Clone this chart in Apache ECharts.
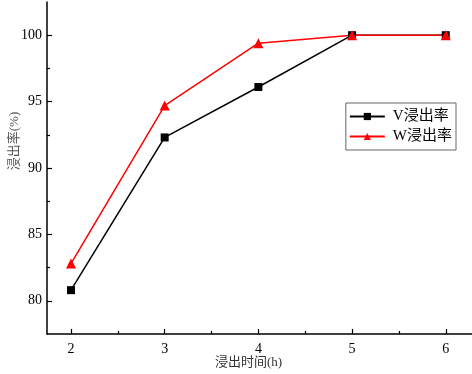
<!DOCTYPE html>
<html><head><meta charset="utf-8">
<script src="https://cdn.jsdelivr.net/npm/echarts@6/dist/echarts.min.js"></script>
<style>html,body{margin:0;padding:0;background:#fff}#c{width:472px;height:374px}</style>
</head><body><div id="c"></div>
<script>
const times = [2, 3, 4, 5, 6];
const vRate = [80.8, 92.3, 96.1, 100.0, 100.0];
const wRate = [82.8, 94.7, 99.4, 100.0, 100.0];
const xMajor = [2, 3, 4, 5, 6];
const xMinor = [2.5, 3.5, 4.5, 5.5];
const yMajor = [80, 85, 90, 95, 100];
const yMinor = [82.5, 87.5, 92.5, 97.5];

const font = '"Liberation Serif", "Times New Roman", "Noto Sans CJK SC", serif';
const chart = echarts.init(document.getElementById('c'));
const xBase = {type: 'value', min: 1.744, max: 6.28, position: 'bottom', splitLine: {show: false}};
const yBase = {type: 'value', min: 77.5, max: 102.5, position: 'left', splitLine: {show: false}};
chart.setOption({
  animation: false,
  grid: {left: 47, right: 0, top: 2, bottom: 40, containLabel: false, outerBoundsMode: 'none'},
  legend: {
    right: 16, top: 103, orient: 'vertical',
    borderColor: '#666', borderWidth: 1, padding: [6, 4, 6, 3], itemGap: 5,
    itemWidth: 35, itemHeight: 9,
    textStyle: {fontFamily: font, fontSize: 15, color: '#000', padding: [0, 0, 0, 3]},
    data: ['V浸出率', 'W浸出率']
  },
  xAxis: [
    Object.assign({}, xBase, {
      name: '浸出时间(h)', nameLocation: 'middle', nameGap: 22, nameMoveOverlap: false,
      nameTextStyle: {fontFamily: font, fontSize: 13, color: '#333', padding: [0, 22, 0, 0]},
      axisLine: {lineStyle: {color: '#000', width: 1.5}},
      axisTick: {inside: true, length: 5, customValues: xMajor, lineStyle: {color: '#000', width: 1.2}},
      axisLabel: {customValues: xMajor, fontFamily: font, fontSize: 14, color: '#000', margin: 8}
    }),
    Object.assign({}, xBase, {
      axisLine: {show: false},
      axisTick: {inside: true, length: 3, customValues: xMinor, lineStyle: {color: '#000', width: 1.2}},
      axisLabel: {show: false}
    })
  ],
  yAxis: [
    Object.assign({}, yBase, {
      name: '浸出率(%)', nameLocation: 'middle', nameGap: 26, nameMoveOverlap: false,
      nameTextStyle: {fontFamily: font, fontSize: 13, color: '#555', padding: [0, 0, 0, 54]},
      axisLine: {lineStyle: {color: '#000', width: 1.5}},
      axisTick: {inside: true, length: 5, customValues: yMajor, lineStyle: {color: '#000', width: 1.2}},
      axisLabel: {customValues: yMajor, fontFamily: font, fontSize: 14, color: '#000', margin: 5}
    }),
    Object.assign({}, yBase, {
      axisLine: {show: false},
      axisTick: {inside: true, length: 3, customValues: yMinor, lineStyle: {color: '#000', width: 1.2}},
      axisLabel: {show: false}
    })
  ],
  series: [
    {
      name: 'V浸出率', type: 'line', xAxisIndex: 0, yAxisIndex: 0,
      data: times.map((t, i) => [t, vRate[i]]),
      symbol: 'rect', symbolSize: 8,
      lineStyle: {color: '#000', width: 1.5}, itemStyle: {color: '#000'}
    },
    {
      name: 'W浸出率', type: 'line', xAxisIndex: 0, yAxisIndex: 0,
      data: times.map((t, i) => [t, wRate[i]]),
      symbol: 'triangle', symbolSize: 10,
      lineStyle: {color: '#ff0000', width: 1.5}, itemStyle: {color: '#ff0000'}
    }
  ]
});
</script></body></html>
